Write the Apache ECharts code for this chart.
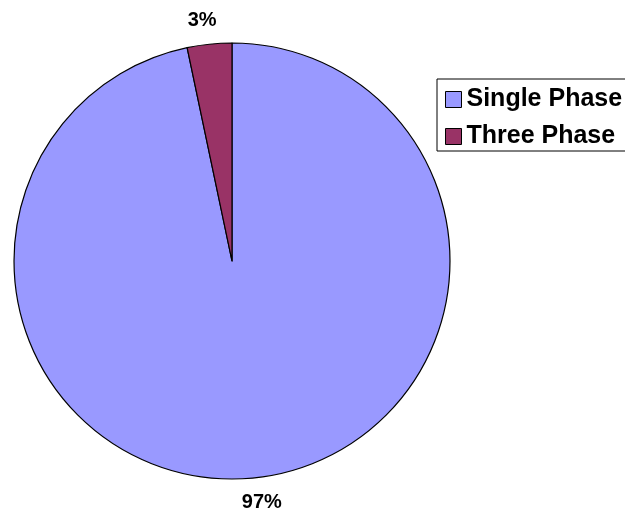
<!DOCTYPE html>
<html>
<head>
<meta charset="utf-8">
<script src="https://cdn.jsdelivr.net/npm/echarts@6/dist/echarts.min.js"></script>
<style>html,body{margin:0;padding:0;background:#fff}#c{width:625px;height:512px}</style>
</head>
<body>
<div id="c"></div>
<script>
const categories = ['Single Phase', 'Three Phase'];
const values = [96.7, 3.3];
const colors = ['#9999FF', '#993366'];

const chart = echarts.init(document.getElementById('c'));
chart.setOption({
  animation: false,
  backgroundColor: '#fff',
  legend: {
    orient: 'vertical',
    left: 437,
    top: 79,
    padding: [8, 20, 2, 8],
    itemGap: 12,
    itemWidth: 16,
    itemHeight: 16,
    icon: 'rect',
    borderColor: '#000',
    borderWidth: 1,
    borderRadius: 0,
    itemStyle: { borderColor: '#000', borderWidth: 1 },
    textStyle: { fontFamily: 'Liberation Sans, Arial', fontWeight: 'bold', fontSize: 25, color: '#000' },
    data: categories
  },
  series: [{
    type: 'pie',
    center: [232, 261],
    radius: 218,
    startAngle: 90,
    clockwise: true,
    percentPrecision: 0,
    itemStyle: { borderColor: '#000', borderWidth: 1.2 },
    label: {
      show: true,
      position: 'outside',
      formatter: '{d}%',
      fontFamily: 'Liberation Sans, Arial',
      fontWeight: 'bold',
      fontSize: 20,
      color: '#000'
    },
    labelLine: { show: false, length: 22, length2: 0 },
    labelLayout: function (p) {
      return { align: 'center', verticalAlign: 'middle', dy: p.dataIndex === 0 ? 3 : -2 };
    },
    emphasis: { disabled: true },
    data: categories.map((n, i) => ({ name: n, value: values[i], itemStyle: { color: colors[i] } }))
  }]
});
</script>
</body>
</html>
